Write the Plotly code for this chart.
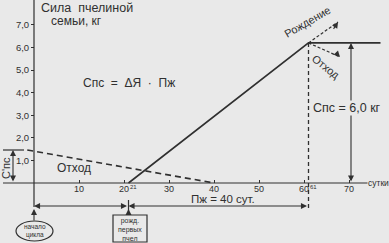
import plotly.graph_objects as go

# ---- data ----
growth_days = [21, 61, 77]          # solid line: colony growth
growth_kg = [0.0, 6.2, 6.2]
loss_days = [-1.5, 40]              # dashed line: loss of wintered bees
loss_kg = [1.46, 0.0]
peak_day = 61
peak_kg = 6.2
start_kg = 1.46
y_ticks = [1, 2, 3, 4, 5, 6, 7]
y_tick_labels = ["1,0", "2,0", "3,0", "4,0", "5,0", "6,0", "7,0"]
x_ticks = [10, 20, 30, 40, 50, 60, 70]
x_tick_labels = ["10", "20", "30", "40", "50", "60", "70"]

W, H = 389, 243
X0, Y0 = 34, 183          # pixel of origin
SX, SY = 4.5, 22.6        # pixels per unit


def dx(p):
    return (p - X0) / SX


def dy(p):
    return (Y0 - p) / SY


BG = "#e9e9e9"
INK = "#303030"
FONT = "Liberation Sans, Arial, sans-serif"

fig = go.Figure()

fig.add_trace(go.Scatter(x=growth_days, y=growth_kg, mode="lines",
                         line=dict(color=INK, width=1.6), hoverinfo="skip"))
fig.add_trace(go.Scatter(x=loss_days, y=loss_kg, mode="lines",
                         line=dict(color=INK, width=1.6, dash="6px,4px"), hoverinfo="skip"))

# axes lines
fig.add_shape(type="line", x0=dx(3), x1=dx(368), y0=0, y1=0, line=dict(color=INK, width=1.2))
fig.add_shape(type="line", x0=0, x1=0, y0=dy(0), y1=dy(207), line=dict(color=INK, width=1.2))
# top tick of C'pc dimension
fig.add_shape(type="line", x0=dx(3), x1=dx(24), y0=start_kg, y1=start_kg, line=dict(color=INK, width=1.2))
# dashed vertical at peak
fig.add_shape(type="line", x0=peak_day, x1=peak_day, y0=peak_kg, y1=dy(211),
              line=dict(color=INK, width=1.3, dash="4px,3px"))
# small vertical bar at day 21
fig.add_shape(type="line", x0=21, x1=21, y0=dy(200), y1=dy(211), line=dict(color=INK, width=1.2))

# dotted arrows from peak
birth_tip = (dx(338), dy(22))
loss_tip = (dx(340), dy(57))
for tip in (birth_tip, loss_tip):
    fig.add_shape(type="line", x0=peak_day, y0=peak_kg, x1=tip[0], y1=tip[1],
                  line=dict(color=INK, width=1.2, dash="3px,2px"))


def arrow(x, y, ax, ay, both=False, w=1.1):
    fig.add_annotation(x=x, y=y, ax=ax, ay=ay, xref="x", yref="y", axref="x", ayref="y",
                       text="", showarrow=True, arrowhead=2, arrowsize=1.1, arrowwidth=w,
                       arrowcolor=INK, arrowside="end+start" if both else "end")


# dotted arrow heads
arrow(birth_tip[0], birth_tip[1], birth_tip[0] - 1.2, birth_tip[1] - 0.37)
arrow(loss_tip[0], loss_tip[1], loss_tip[0] - 1.2, loss_tip[1] + 0.25)
# dimension arrows
arrow(dx(351), peak_kg, dx(351), 0, both=True)
arrow(dx(13), start_kg, dx(13), 0, both=True)
arrow(0, dy(206), 21, dy(206), both=True)
arrow(21, dy(206), peak_day, dy(206), both=True)
# arrows from labels up to the axis
arrow(0, dy(209), 0, dy(222))
arrow(21, dy(209), 21, dy(215))

# ellipse and box
fig.add_shape(type="circle", x0=dx(16), x1=dx(53), y0=dy(221), y1=dy(241),
              line=dict(color=INK, width=1.2), fillcolor=BG)
fig.add_shape(type="rect", x0=dx(113), x1=dx(147), y0=dy(215), y1=dy(242),
              line=dict(color=INK, width=1.2), fillcolor=BG)


def text(px, py, s, size=11, angle=0, xanchor="center", bg=None):
    fig.add_annotation(x=dx(px), y=dy(py), xref="x", yref="y", text=s, showarrow=False,
                       textangle=angle, xanchor=xanchor, yanchor="middle",
                       font=dict(family=FONT, size=size, color=INK),
                       bgcolor=bg, borderpad=0)


text(40, 8, "Сила  пчелиной", size=12.5, xanchor="left")
text(76, 21, "семьи, кг", size=12)
text(129, 83, "Спс  =  ΔЯ  ·  Пж", size=12)
text(74, 168, "Отход", size=12)
text(6, 168, "С'пс", size=11, angle=-90)
text(307, 22, "Рождение", size=11, angle=-30)
text(326, 67, "Отход", size=11, angle=38)
text(347, 108, "Спс = 6,0 кг", size=12.5, bg=BG)
text(223, 199, "Пж = 40 сут.", size=11.5)
text(378, 183, "сутки", size=8.5, bg=BG)
text(133, 187, "21", size=6)
text(313, 187, "61", size=6)
text(34.5, 231, "начало<br>цикла", size=6.5)
text(130, 229, "рожд.<br>первых<br>пчел", size=7)

fig.update_layout(
    width=W, height=H, margin=dict(l=0, r=0, t=0, b=0),
    paper_bgcolor=BG, plot_bgcolor=BG, showlegend=False,
    xaxis=dict(range=[dx(0), dx(W)], domain=[0, 1], anchor="free", position=(H - Y0) / H,
               tickvals=x_ticks, ticktext=x_tick_labels, ticks="inside", ticklen=3,
               tickcolor=INK, showgrid=False, zeroline=False, showline=False,
               ticklabelstandoff=-1,
               tickfont=dict(family=FONT, size=9, color=INK)),
    yaxis=dict(range=[dy(H), dy(0)], domain=[0, 1], anchor="free", position=X0 / W,
               tickvals=y_ticks, ticktext=y_tick_labels, ticks="outside", ticklen=3,
               tickcolor=INK, showgrid=False, zeroline=False, showline=False,
               tickfont=dict(family=FONT, size=9.5, color=INK)),
)

fig.write_html("out.html")
